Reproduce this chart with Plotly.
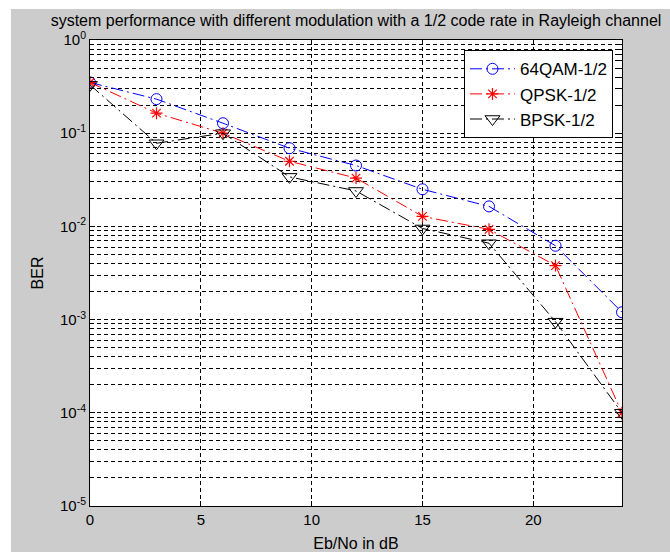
import plotly.graph_objects as go

ebno = [0, 3, 6, 9, 12, 15, 18, 21, 24]
ber_64qam = [0.35, 0.232, 0.128, 0.069, 0.045, 0.025, 0.0164, 0.0062, 0.0012]
ber_qpsk = [0.35, 0.164, 0.100, 0.050, 0.033, 0.0128, 0.0093, 0.0038, 0.0001]
ber_bpsk = [0.33, 0.078, 0.100, 0.034, 0.024, 0.0095, 0.0066, 0.00095, 0.0001]

series_names = ["64QAM-1/2", "QPSK-1/2", "BPSK-1/2"]
ytick_vals = [1e-5, 1e-4, 1e-3, 1e-2, 1e-1, 1e0]
ytick_text = ["10<sup>-5</sup>", "10<sup>-4</sup>", "10<sup>-3</sup>",
              "10<sup>-2</sup>", "10<sup>-1</sup>", "10<sup>0</sup>"]

FONT = "Liberation Sans, Arial, sans-serif"
DASH = "12px,4px,2px,4px"

fig = go.Figure()
fig.add_trace(go.Scatter(
    x=ebno, y=ber_64qam, name=series_names[0], mode="lines+markers",
    legendgroup="a",
    line=dict(color="#0000ff", width=1, dash=DASH),
    marker=dict(symbol="circle-open", size=11, color="#0000ff", line=dict(width=1))))
fig.add_trace(go.Scatter(
    x=ebno, y=ber_qpsk, name=series_names[1], mode="lines+markers",
    legendgroup="b",
    line=dict(color="#ff0000", width=1, dash=DASH),
    marker=dict(symbol="asterisk-open", size=10, color="#ff0000", line=dict(width=1.2, color="#ff0000"))))
fig.add_trace(go.Scatter(
    x=ebno, y=ber_bpsk, name=series_names[2], mode="lines+markers",
    legendgroup="c",
    line=dict(color="#000000", width=1, dash=DASH),
    marker=dict(symbol="triangle-down-open", size=13, color="#000000", line=dict(width=1))))

grid_kw = dict(showgrid=True, gridcolor="black", gridwidth=1, griddash="4px,3px")

fig.update_xaxes(
    range=[0, 24], tickmode="array", tickvals=[0, 5, 10, 15, 20],
    ticks="inside", ticklen=5, tickcolor="black", mirror="ticks",
    showline=True, linecolor="black", linewidth=1,
    zeroline=False, automargin=False,
    title=dict(text="Eb/No in dB", font=dict(family=FONT, size=16, color="black"), standoff=12),
    tickfont=dict(family=FONT, size=15, color="black"),
    **grid_kw)
fig.update_yaxes(
    type="log", range=[-5, 0], tickmode="array", tickvals=ytick_vals, ticktext=ytick_text,
    ticks="inside", ticklen=5, tickcolor="black", mirror="ticks",
    showline=True, linecolor="black", linewidth=1,
    zeroline=False, automargin=False,
    minor=dict(dtick="D1", ticks="inside", ticklen=3, tickcolor="black",
               showgrid=True, gridcolor="black", gridwidth=1, griddash="4px,3px"),
    title=dict(text="BER", font=dict(family=FONT, size=16, color="black"), standoff=12),
    tickfont=dict(family=FONT, size=15, color="black"),
    **grid_kw)

fig.update_layout(
    width=670, height=552,
    margin=dict(l=90, r=48, t=40, b=46, autoexpand=False),
    paper_bgcolor="#cccccc", plot_bgcolor="white",
    font=dict(family=FONT, size=15, color="black"),
    title=dict(text="system performance with different modulation with a 1/2 code rate in Rayleigh channel",
               x=0.5, xref="paper", xanchor="center", y=1 - 20 / 552, yref="container",
               yanchor="middle", font=dict(family=FONT, size=16, color="black")),
    legend=dict(x=0.703, y=0.978, xanchor="left", yanchor="top",
                bgcolor="white", bordercolor="black", borderwidth=1,
                font=dict(family=FONT, size=17, color="black"),
                tracegroupgap=0, itemwidth=45),
    shapes=[
        dict(type="rect", xref="paper", yref="paper",
             x0=(0 - 90) / 532, x1=(11 - 90) / 532, y0=(506 - 552) / 466, y1=(506 - 0) / 466,
             fillcolor="white", line=dict(width=0), layer="below"),
        dict(type="rect", xref="paper", yref="paper",
             x0=(0 - 90) / 532, x1=(670 - 90) / 532, y0=(506 - 9) / 466, y1=(506 - 0) / 466,
             fillcolor="white", line=dict(width=0), layer="below"),
    ],
)

fig.write_html("out.html")
